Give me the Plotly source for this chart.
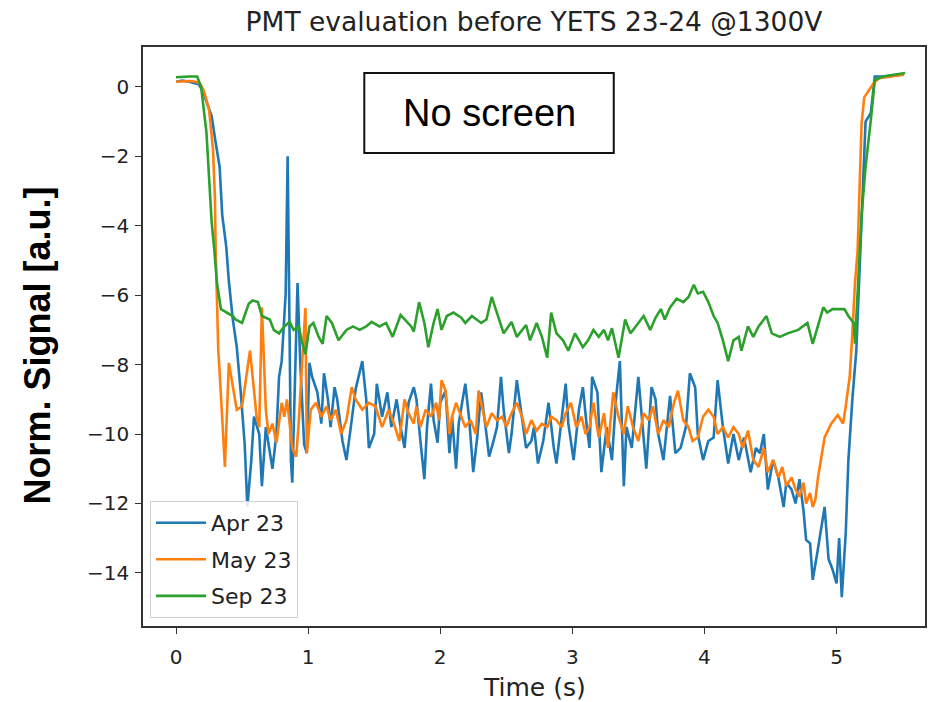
import plotly.graph_objects as go

# ---- data: normalised PMT signal vs time ----
apr_t = [0.0, 0.05, 0.1, 0.14, 0.17, 0.2, 0.24, 0.27, 0.30, 0.33, 0.35, 0.38, 0.40, 0.43, 0.46, 0.47,
         0.49, 0.52, 0.54, 0.57, 0.59, 0.63, 0.65, 0.68, 0.71, 0.73, 0.76, 0.78, 0.80, 0.83, 0.845, 0.86,
         0.87, 0.88, 0.91, 0.92, 0.94, 0.97, 0.99, 1.01, 1.03, 1.07, 1.10, 1.12, 1.15, 1.17, 1.20, 1.22,
         1.26, 1.29, 1.33, 1.36, 1.41, 1.44, 1.46, 1.50, 1.52, 1.56, 1.60, 1.63, 1.67, 1.70, 1.73, 1.76,
         1.80, 1.82, 1.85, 1.88, 1.90, 1.93, 1.95, 1.98, 2.00, 2.04, 2.07, 2.09, 2.12, 2.14, 2.17, 2.19,
         2.22, 2.25, 2.28, 2.31, 2.35, 2.37, 2.40, 2.43, 2.46, 2.48, 2.52, 2.54, 2.58, 2.62, 2.65, 2.69,
         2.71, 2.74, 2.78, 2.82, 2.86, 2.88, 2.92, 2.95, 2.97, 3.01, 3.05, 3.08, 3.11, 3.13, 3.15, 3.19,
         3.22, 3.26, 3.30, 3.33, 3.36, 3.39, 3.41, 3.45, 3.50, 3.52, 3.56, 3.60, 3.63, 3.65, 3.69, 3.74,
         3.78, 3.82, 3.86, 3.89, 3.93, 3.95, 3.99, 4.03, 4.07, 4.10, 4.14, 4.18, 4.22, 4.26, 4.30, 4.35,
         4.39, 4.42, 4.45, 4.48, 4.52, 4.56, 4.60, 4.62, 4.66, 4.69, 4.72, 4.75, 4.77, 4.80, 4.82, 4.86,
         4.91, 4.94, 4.97, 5.00, 5.02, 5.04, 5.07, 5.09, 5.12, 5.15, 5.18, 5.20, 5.22, 5.26, 5.29, 5.35,
         5.45, 5.51]
apr_v = [0.15, 0.18, 0.15, 0.1, 0.08, -0.1, -0.5, -0.85, -1.6, -2.3, -3.7, -4.6, -5.6, -6.7, -7.5, -7.9,
         -8.8, -10.3, -12.1, -10.75, -9.5, -10.0, -11.5, -9.8, -10.55, -11.0, -10.0, -8.35, -7.9, -5.95, -2.0, -8.0,
         -10.75, -11.4, -6.9, -5.65, -7.9, -10.3, -10.55, -7.95, -8.35, -8.8, -9.7, -8.25, -9.0, -9.8, -8.65, -9.0,
         -10.2, -10.75, -9.6, -8.7, -7.9, -9.0, -10.4, -10.0, -8.55, -9.5, -8.8, -9.8, -9.0, -9.8, -10.4, -9.1,
         -8.65, -9.0, -10.2, -11.3, -9.8, -8.55, -9.6, -10.25, -9.1, -8.75, -10.55, -9.5, -11.0, -9.7, -9.0, -8.55,
         -9.6, -11.1, -10.1, -8.8, -10.0, -10.65, -10.25, -9.8, -8.35, -9.3, -10.55, -10.0, -8.45, -9.6, -10.4, -10.2,
         -9.8, -10.85, -10.2, -9.1, -10.4, -10.85, -9.6, -8.55, -9.7, -10.75, -9.3, -8.65, -9.8, -10.4, -8.35, -8.8,
         -11.1, -9.8, -10.75, -9.0, -7.9, -11.5, -9.8, -10.4, -8.35, -9.3, -11.0, -8.65, -9.0, -10.0, -10.75, -8.9,
         -10.55, -10.4, -9.8, -8.25, -8.65, -10.0, -10.75, -10.2, -10.1, -8.45, -9.8, -10.85, -10.0, -10.75, -10.1, -11.1,
         -10.4, -10.55, -10.0, -11.6, -10.75, -11.25, -12.1, -11.4, -11.6, -12.0, -11.3, -12.2, -13.05, -13.15, -14.2, -13.3,
         -12.1, -13.6, -13.9, -14.3, -13.0, -14.7, -12.85, -10.75, -9.0, -7.6, -4.7, -2.5, -1.0, -0.75, 0.3, 0.3,
         0.33, 0.38]

may_t = [0.0, 0.05, 0.1, 0.15, 0.18, 0.21, 0.25, 0.28, 0.295, 0.30, 0.31, 0.32, 0.33, 0.37, 0.40, 0.44,
         0.46, 0.50, 0.56, 0.58, 0.61, 0.63, 0.65, 0.68, 0.70, 0.73, 0.76, 0.80, 0.82, 0.84, 0.88, 0.91,
         0.93, 0.96, 0.98, 0.99, 1.02, 1.06, 1.10, 1.14, 1.17, 1.21, 1.25, 1.29, 1.33, 1.36, 1.41, 1.46,
         1.51, 1.56, 1.61, 1.65, 1.69, 1.73, 1.76, 1.80, 1.82, 1.85, 1.89, 1.93, 1.97, 1.99, 2.01, 2.04,
         2.07, 2.09, 2.12, 2.16, 2.19, 2.23, 2.27, 2.29, 2.32, 2.35, 2.39, 2.43, 2.47, 2.50, 2.54, 2.58,
         2.62, 2.65, 2.69, 2.73, 2.77, 2.81, 2.84, 2.88, 2.92, 2.95, 2.99, 3.03, 3.07, 3.10, 3.13, 3.16,
         3.20, 3.24, 3.27, 3.31, 3.35, 3.39, 3.42, 3.46, 3.50, 3.54, 3.58, 3.61, 3.65, 3.69, 3.73, 3.77,
         3.80, 3.84, 3.88, 3.91, 3.95, 3.99, 4.03, 4.07, 4.10, 4.14, 4.18, 4.22, 4.26, 4.29, 4.33, 4.37,
         4.41, 4.45, 4.48, 4.52, 4.56, 4.59, 4.62, 4.66, 4.69, 4.72, 4.75, 4.77, 4.80, 4.82, 4.84, 4.86,
         4.91, 4.96, 5.01, 5.05, 5.07, 5.10, 5.12, 5.14, 5.16, 5.18, 5.19, 5.21, 5.26, 5.28, 5.32, 5.42,
         5.51]
may_v = [0.15, 0.17, 0.17, 0.15, 0.1, -0.1, -0.65, -1.8, -3.25, -4.7, -6.4, -7.6, -8.2, -10.95, -7.95, -8.8,
         -9.3, -9.2, -7.6, -8.35, -9.5, -9.8, -6.35, -9.3, -10.0, -9.7, -10.25, -9.1, -9.5, -9.0, -10.4, -10.65,
         -9.6, -7.6, -6.37, -10.55, -9.3, -9.1, -9.5, -9.2, -9.6, -9.3, -10.0, -9.6, -8.65, -9.0, -9.3, -9.1,
         -9.2, -9.8, -9.3, -9.7, -10.2, -9.0, -9.4, -9.7, -9.2, -9.8, -9.3, -9.5, -9.1, -9.6, -8.45, -8.75,
         -10.0, -9.5, -9.1, -9.5, -9.8, -9.6, -10.0, -8.75, -9.3, -9.8, -9.4, -9.6, -9.5, -9.8, -9.4, -9.1,
         -9.5, -10.0, -9.6, -9.9, -9.7, -9.8, -9.5, -9.6, -9.8, -9.4, -9.1, -9.8, -9.5, -10.0, -9.8, -9.1,
         -10.1, -9.4, -10.4, -8.8, -9.5, -10.0, -9.2, -9.8, -10.2, -9.4, -9.6, -9.2, -10.0, -9.6, -9.8, -9.1,
         -8.75, -9.6, -9.8, -10.2, -10.1, -9.5, -9.3, -9.5, -10.0, -9.8, -10.1, -9.8, -10.0, -10.4, -9.9, -10.75,
         -10.95, -10.4, -11.1, -10.75, -11.25, -10.95, -11.5, -11.25, -11.6, -11.8, -11.4, -12.0, -11.7, -12.1, -11.9, -11.25,
         -10.1, -9.7, -9.45, -9.7, -9.2, -8.35, -7.1, -5.65, -4.7, -2.5, -1.05, -0.3, -0.03, 0.1, 0.25, 0.3,
         0.35]

sep_t = [0.0, 0.05, 0.10, 0.16, 0.19, 0.23, 0.25, 0.27, 0.29, 0.31, 0.34, 0.38, 0.43, 0.45, 0.50, 0.55,
         0.58, 0.62, 0.65, 0.71, 0.74, 0.78, 0.82, 0.86, 0.89, 0.93, 0.95, 0.98, 1.01, 1.04, 1.08, 1.11,
         1.14, 1.18, 1.23, 1.29, 1.34, 1.39, 1.44, 1.48, 1.54, 1.59, 1.64, 1.70, 1.78, 1.80, 1.84, 1.88,
         1.91, 1.95, 1.98, 2.01, 2.05, 2.10, 2.16, 2.19, 2.24, 2.31, 2.35, 2.39, 2.43, 2.48, 2.54, 2.58,
         2.65, 2.68, 2.73, 2.77, 2.81, 2.84, 2.88, 2.93, 2.97, 3.02, 3.08, 3.12, 3.16, 3.20, 3.24, 3.27,
         3.30, 3.35, 3.40, 3.44, 3.48, 3.54, 3.59, 3.63, 3.67, 3.70, 3.74, 3.79, 3.84, 3.88, 3.92, 3.95,
         3.99, 4.03, 4.07, 4.10, 4.14, 4.18, 4.22, 4.26, 4.28, 4.33, 4.37, 4.41, 4.47, 4.51, 4.57, 4.63,
         4.71, 4.78, 4.82, 4.90, 4.93, 4.97, 5.06, 5.09, 5.13, 5.14, 5.19, 5.22, 5.26, 5.29, 5.35, 5.45,
         5.52]
sep_v = [0.28, 0.3, 0.3, 0.3, 0.0, -1.3, -2.8, -3.9, -4.7, -5.65, -6.4, -6.5, -6.6, -6.7, -6.8, -6.25,
         -6.15, -6.2, -6.6, -6.7, -7.0, -7.1, -6.9, -6.77, -7.0, -6.9, -7.3, -7.7, -6.9, -6.8, -7.2, -7.4,
         -6.6, -6.8, -7.3, -7.0, -6.9, -7.0, -6.9, -6.77, -6.9, -6.8, -7.2, -6.57, -6.9, -7.05, -6.2, -6.8,
         -7.5, -6.8, -6.4, -7.0, -6.6, -6.5, -6.65, -6.8, -6.6, -6.8, -6.7, -6.05, -6.5, -7.1, -6.77, -7.2,
         -6.86, -7.3, -6.8, -7.2, -7.8, -6.5, -7.1, -7.3, -7.6, -7.1, -7.5, -7.3, -7.0, -7.2, -7.0, -7.3,
         -6.95, -7.8, -6.7, -7.1, -6.9, -6.6, -7.0, -6.65, -6.4, -6.7, -6.35, -6.1, -6.2, -6.05, -5.7, -5.95,
         -5.9, -6.2, -6.6, -6.8, -7.3, -7.9, -7.3, -7.2, -7.6, -6.9, -7.2, -6.9, -6.6, -7.1, -7.2, -7.1,
         -7.0, -6.8, -7.4, -6.35, -6.5, -6.4, -6.4, -6.6, -6.8, -7.4, -3.7, -2.3, -0.95, 0.2, 0.3, 0.35,
         0.4]

series = [("Apr 23", apr_t, apr_v, "#1f77b4"),
          ("May 23", may_t, may_v, "#ff7f0e"),
          ("Sep 23", sep_t, sep_v, "#2ca02c")]

x_ticks = [0, 1, 2, 3, 4, 5]
y_ticks = [0, -2, -4, -6, -8, -10, -12, -14]

fig = go.Figure()
for name, t, v, col in series:
    fig.add_trace(go.Scatter(x=t, y=v, mode="lines", name=name, legendgroup=name,
                             line=dict(color=col, width=2.6)))

axis_common = dict(showline=True, linecolor="#333", linewidth=1.5, mirror=True,
                   ticks="outside", ticklen=6, tickwidth=1.3, tickcolor="#333",
                   showgrid=False, zeroline=False,
                   tickfont=dict(family="DejaVu Sans", size=20, color="#222"))

fig.update_layout(
    width=932, height=702,
    margin=dict(l=143, r=5, t=47, b=76),
    paper_bgcolor="white", plot_bgcolor="white",
    title=dict(text="PMT evaluation before YETS 23-24 @1300V",
               x=0.5, xref="paper", xanchor="center",
               y=1 - 22 / 702, yref="container", yanchor="middle",
               font=dict(family="DejaVu Sans", size=26.5, color="#222")),
    xaxis=dict(range=[-0.25, 5.67], tickvals=x_ticks, ticklabelstandoff=6, **axis_common),
    yaxis=dict(range=[-15.53, 1.15], tickvals=y_ticks, ticklabelstandoff=2, **axis_common),
    legend=dict(x=0.009, y=0.014, xanchor="left", yanchor="bottom",
                bgcolor="rgba(255,255,255,0.85)", bordercolor="#d0d0d0", borderwidth=1,
                font=dict(family="DejaVu Sans", size=22, color="#222"),
                itemwidth=50, tracegroupgap=5),
    showlegend=True,
)

# axis titles
fig.add_annotation(text="Time (s)", xref="paper", yref="paper", x=0.5, y=-0.107,
                   xanchor="center", yanchor="middle", showarrow=False,
                   font=dict(family="DejaVu Sans", size=25, color="#222"))
fig.add_annotation(text="<b>Norm. Signal [a.u.]</b>", xref="paper", yref="paper",
                   x=-0.135, y=0.485, xanchor="center", yanchor="middle", textangle=-90,
                   showarrow=False,
                   font=dict(family="Liberation Sans, Arial", size=36, color="black"))

# boxed label
fig.add_shape(type="rect", xref="paper", yref="paper", x0=0.283, x1=0.602, y0=0.817, y1=0.955,
              line=dict(color="#111", width=2), fillcolor="white", layer="above")
fig.add_annotation(text="No screen", xref="paper", yref="paper", x=0.4425, y=0.886,
                   xanchor="center", yanchor="middle", showarrow=False,
                   font=dict(family="Liberation Sans, Arial", size=38, color="black"))

fig.write_html("out.html")
